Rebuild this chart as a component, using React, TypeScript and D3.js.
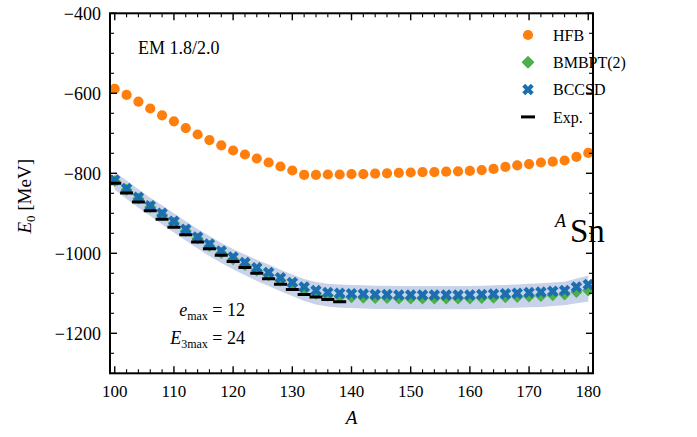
import React from "react";
import * as d3 from "d3";

// mass numbers of the computed Sn chain
const massNumbers = [
  100, 102, 104, 106, 108, 110, 112, 114, 116, 118, 120, 122, 124, 126, 128, 130, 132, 134, 136, 138,
  140, 142, 144, 146, 148, 150, 152, 154, 156, 158, 160, 162, 164, 166, 168, 170, 172, 174, 176, 178, 180,
];

const hfb = [
  -589, -604, -621, -638, -655, -670, -687, -703, -717, -730, -743, -753, -763, -773, -783, -793, -804, -804, -803, -803,
  -802, -802, -801, -800, -799, -798, -797, -797, -796, -795, -794, -792, -789, -784, -780, -777, -773, -771, -768, -759, -749,
];

const bmbpt = [
  -819, -841, -863, -884, -904, -924, -944, -963, -982, -999, -1015, -1029, -1043, -1055, -1068, -1080, -1092, -1101, -1106, -1109,
  -1110, -1111, -1112, -1112, -1113, -1113, -1113, -1113, -1113, -1113, -1113, -1112, -1111, -1110, -1109, -1108, -1107, -1105, -1103, -1097, -1093,
];

const bccsd = [
  -817, -838, -860, -881, -900, -920, -940, -959, -977, -994, -1009, -1023, -1036, -1048, -1061, -1073, -1084, -1093, -1098, -1100,
  -1101, -1102, -1103, -1103, -1104, -1104, -1104, -1104, -1104, -1104, -1104, -1103, -1102, -1101, -1100, -1098, -1097, -1095, -1093, -1084, -1078,
];

const bandUpper = [
  -797, -818, -840, -861, -880, -900, -920, -939, -957, -974, -989, -1003, -1016, -1028, -1041, -1053, -1064, -1072, -1076, -1078,
  -1079, -1080, -1081, -1081, -1082, -1082, -1082, -1082, -1082, -1082, -1082, -1081, -1080, -1079, -1078, -1076, -1075, -1073, -1071, -1063, -1056,
];

const bandLower = [
  -841, -864, -886, -907, -928, -948, -968, -988, -1007, -1024, -1040, -1055, -1069, -1082, -1095, -1107, -1119, -1128, -1133, -1136,
  -1137, -1138, -1139, -1139, -1140, -1140, -1140, -1140, -1140, -1140, -1140, -1139, -1138, -1137, -1136, -1135, -1134, -1132, -1130, -1125, -1121,
];

const expMass = [100, 102, 104, 106, 108, 110, 112, 114, 116, 118, 120, 122, 124, 126, 128, 130, 132, 134, 136, 138];
const expEnergy = [
  -824.8, -849.1, -871.6, -893.4, -914.6, -934.6, -953.5, -971.6, -988.7, -1005.0, -1020.5, -1035.5, -1050.0, -1063.9,
  -1077.4, -1090.3, -1102.8, -1109.1, -1115.3, -1121.3,
];

const xTicks = [100, 110, 120, 130, 140, 150, 160, 170, 180];
const yTicks = [-1200, -1000, -800, -600, -400];

const legendItems = ["HFB", "BMBPT(2)", "BCCSD", "Exp."];

const W = 697;
const H = 437;
const left = 110;
const right = 593;
const top = 13.3;
const bottom = 373.3;

const ORANGE = "#ff7f0e";
const GREEN = "#4daf4a";
const BLUE = "#1b6fb0";
const BAND = "#c8d2e9";
const FONT =
  '"Liberation Serif", "Times New Roman", Times, "DejaVu Serif", "Noto Serif", FreeSerif, serif';

// filled "X" marker like matplotlib's
function xPath(cx: number, cy: number, h: number, w: number) {
  const pts = [
    [-w, -h], [w, -h], [w, -w], [h, -w], [h, w], [w, w],
    [w, h], [-w, h], [-w, w], [-h, w], [-h, -w], [-w, -w],
  ];
  const c = Math.SQRT1_2;
  return (
    "M" +
    pts.map(([x, y]) => `${cx + (x - y) * c},${cy + (x + y) * c}`).join("L") +
    "Z"
  );
}

function diamondPath(cx: number, cy: number, r: number) {
  return `M${cx},${cy - r}L${cx + r},${cy}L${cx},${cy + r}L${cx - r},${cy}Z`;
}

export default function App() {
  const x = d3.scaleLinear().domain([99.2, 180.8]).range([left, right]);
  const y = d3.scaleLinear().domain([-1300, -400]).range([bottom, top]);

  const xMinor = d3.range(100, 181, 2).filter((v) => v % 10 !== 0);
  const yMinor = d3.range(-1300, -399, 50).filter((v) => v % 200 !== 0);

  const band = d3
    .area<number>()
    .x((_, i) => x(massNumbers[i]))
    .y0((_, i) => y(bandLower[i]))
    .y1((_, i) => y(bandUpper[i]));

  const majLen = 7;
  const minLen = 4;
  const ts = { fontFamily: FONT };

  return (
    <svg width={W} height={H} style={{ position: "absolute", left: 0, top: 0, background: "#fff", fontFamily: FONT }}>
      <defs>
        <clipPath id="plot">
          <rect x={left} y={top} width={right - left} height={bottom - top} />
        </clipPath>
      </defs>

      <g clipPath="url(#plot)">
        <path d={band(massNumbers) || ""} fill={BAND} />
        {massNumbers.map((a, i) => (
          <circle key={"h" + a} cx={x(a)} cy={y(hfb[i])} r={5.1} fill={ORANGE} />
        ))}
        {massNumbers.map((a, i) => (
          <path key={"m" + a} d={diamondPath(x(a), y(bmbpt[i]), 6)} fill={GREEN} />
        ))}
        {massNumbers.map((a, i) => (
          <path key={"c" + a} d={xPath(x(a), y(bccsd[i]), 6, 2.1)} fill={BLUE} />
        ))}
        {expMass.map((a, i) => (
          <line key={"e" + a} x1={x(a) - 6.5} x2={x(a) + 6.5} y1={y(expEnergy[i])} y2={y(expEnergy[i])} stroke="#000" strokeWidth={3} />
        ))}
      </g>

      {/* ticks, all four sides, pointing in */}
      <g stroke="#000">
        {xTicks.map((t) => (
          <g key={"xt" + t} strokeWidth={1.4}>
            <line x1={x(t)} x2={x(t)} y1={bottom} y2={bottom - majLen} />
            <line x1={x(t)} x2={x(t)} y1={top} y2={top + majLen} />
          </g>
        ))}
        {xMinor.map((t) => (
          <g key={"xm" + t} strokeWidth={1.1}>
            <line x1={x(t)} x2={x(t)} y1={bottom} y2={bottom - minLen} />
            <line x1={x(t)} x2={x(t)} y1={top} y2={top + minLen} />
          </g>
        ))}
        {yTicks.map((t) => (
          <g key={"yt" + t} strokeWidth={1.4}>
            <line x1={left} x2={left + majLen} y1={y(t)} y2={y(t)} />
            <line x1={right} x2={right - majLen} y1={y(t)} y2={y(t)} />
          </g>
        ))}
        {yMinor.map((t) => (
          <g key={"ym" + t} strokeWidth={1.1}>
            <line x1={left} x2={left + minLen} y1={y(t)} y2={y(t)} />
            <line x1={right} x2={right - minLen} y1={y(t)} y2={y(t)} />
          </g>
        ))}
      </g>

      <rect x={left} y={top} width={right - left} height={bottom - top} fill="none" stroke="#000" strokeWidth={2} />

      {/* tick labels */}
      <g fontSize={17} fill="#000">
        {xTicks.map((t) => (
          <text key={"xl" + t} style={ts} x={x(t)} y={bottom + 24} textAnchor="middle">
            {t}
          </text>
        ))}
        {yTicks.map((t) => (
          <text key={"yl" + t} style={ts} x={left - 9} y={y(t)} dy="0.35em" textAnchor="end" fontSize={18}>
            {"\u2212" + Math.abs(t)}
          </text>
        ))}
      </g>

      {/* axis titles */}
      <text style={ts} x={(left + right) / 2} y={424} textAnchor="middle" fontSize={19} fontStyle="italic">
        A
      </text>
      <text style={ts} transform={`translate(31,${(top + bottom) / 2 + 3}) rotate(-90)`} textAnchor="middle" fontSize={19}>
        <tspan fontStyle="italic">E</tspan>
        <tspan fontSize={13} dy={4}>0</tspan>
        <tspan dy={-4}> [MeV]</tspan>
      </text>

      {/* annotations */}
      <text style={ts} x={138} y={54} fontSize={18}>EM 1.8/2.0</text>
      <text style={ts} x={555} y={227} fontSize={18} fontStyle="italic">A</text>
      <text style={ts} x={570} y={242} fontSize={33}>Sn</text>
      <text style={ts} x={245} y={316} fontSize={18} textAnchor="end">
        <tspan fontStyle="italic">e</tspan>
        <tspan fontSize={12} dy={4}>max</tspan>
        <tspan dy={-4}> = 12</tspan>
      </text>
      <text style={ts} x={245} y={344} fontSize={18} textAnchor="end">
        <tspan fontStyle="italic">E</tspan>
        <tspan fontSize={12} dy={4}>3max</tspan>
        <tspan dy={-4}> = 24</tspan>
      </text>

      {/* legend */}
      <g fontSize={16}>
        {legendItems.map((name, i) => {
          const ly = 35 + i * 27.3;
          const lx = 528;
          let marker;
          if (i === 0) marker = <circle cx={lx} cy={ly} r={5.1} fill={ORANGE} />;
          else if (i === 1) marker = <path d={diamondPath(lx, ly, 6.5)} fill={GREEN} />;
          else if (i === 2) marker = <path d={xPath(lx, ly, 6, 2.1)} fill={BLUE} />;
          else marker = <line x1={lx - 7} x2={lx + 7} y1={ly} y2={ly} stroke="#000" strokeWidth={3} />;
          return (
            <g key={name}>
              {marker}
              <text style={ts} x={553} y={ly} dy="0.35em">
                {name}
              </text>
            </g>
          );
        })}
      </g>
    </svg>
  );
}
